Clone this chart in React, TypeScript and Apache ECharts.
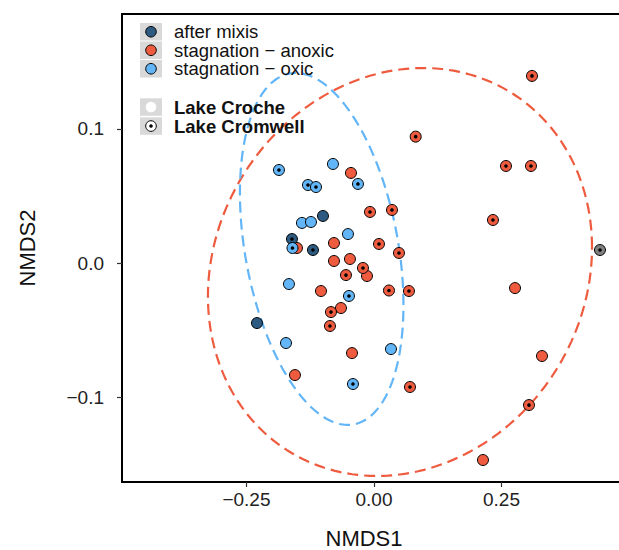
import React, { useEffect, useRef } from "react";
import * as echarts from "echarts";

const xTicks = [-0.25, 0, 0.25];
const yTicks = [-0.1, 0, 0.1];
const seasonLabels = ["after mixis", "stagnation − anoxic", "stagnation − oxic"];
const lakeLabels = ["Lake Croche", "Lake Cromwell"];
const xTitle = "NMDS1";
const yTitle = "NMDS2";

// [NMDS1, NMDS2]
const mixisCroche = [[-0.1, 0.0351], [-0.2294, -0.0448]];
const mixisCromwell = [[-0.1608, 0.0179], [-0.1196, 0.0097]];
const anoxicCroche = [
  [-0.0451, 0.0672], [-0.0784, 0.0149], [-0.151, 0.0112], [-0.0784, 0.0015],
  [-0.0471, 0.003], [-0.0137, -0.0097], [-0.1039, -0.0209], [0.2765, -0.0187],
  [-0.0647, -0.0336], [-0.0431, -0.0672], [0.3294, -0.0694], [-0.1549, -0.0836],
  [0.2137, -0.147],
];
const anoxicCromwell = [
  [0.3098, 0.1396], [0.0818, 0.0943], [0.2588, 0.0724], [0.3078, 0.0724],
  [-0.0078, 0.0381], [0.0353, 0.0396], [0.2333, 0.0321], [0.0098, 0.0142],
  [0.049, 0.0075], [-0.0216, -0.0037], [-0.0549, -0.009], [0.0294, -0.0205],
  [0.0686, -0.0209], [-0.0843, -0.0366], [-0.0863, -0.047], [0.0706, -0.0925],
  [0.3039, -0.106],
];
const oxicCroche = [
  [-0.0804, 0.0739], [-0.1412, 0.0299], [-0.1235, 0.0306], [-0.051, 0.0216],
  [-0.1667, -0.0157], [-0.1725, -0.0597], [0.0333, -0.0642],
];
const oxicCromwell = [
  [-0.1863, 0.0694], [-0.1294, 0.0582], [-0.1137, 0.0567], [-0.0314, 0.059],
  [-0.1598, 0.0112], [-0.049, -0.0246], [-0.0412, -0.0903],
];
const unassignedCromwell = [[0.4431, 0.0097]];

// ellipse parameters: centre, spreads and correlation
const anoxicEllipse = { cx: 0.051, cy: -0.0067, sx: 0.3765, sy: 0.1522, r: 0.12 };
const oxicEllipse = { cx: -0.1025, cy: 0.0105, sx: 0.1603, sy: 0.1313, r: -0.318 };

const RED = "#EE5B3E";
const BLUE = "#62B5F7";
const NAVY = "#2D5A80";
const GRAY = "#7F7F7F";
const FONT = "'Liberation Sans', Arial, sans-serif";

function ellipsePts(e: { cx: number; cy: number; sx: number; sy: number; r: number }) {
  const pts: number[][] = [];
  const n = 200;
  const q = Math.sqrt(1 - e.r * e.r);
  for (let i = 0; i <= n; i++) {
    const t = (i / n) * Math.PI * 2;
    pts.push([e.cx + e.sx * Math.cos(t), e.cy + e.sy * (e.r * Math.cos(t) + q * Math.sin(t))]);
  }
  return pts;
}

function circles(data: number[][], color: string) {
  return {
    type: "scatter",
    data,
    symbol: "circle",
    symbolSize: 11,
    itemStyle: { color, borderColor: "#000", borderWidth: 1, opacity: 1 },
    z: 3,
    silent: true,
  };
}
function dots(data: number[][]) {
  return {
    type: "scatter",
    data,
    symbol: "circle",
    symbolSize: 3.6,
    itemStyle: { color: "#000", opacity: 1 },
    z: 3,
    silent: true,
  };
}
function ellipseSeries(e: any, color: string) {
  return {
    type: "line",
    data: ellipsePts(e),
    showSymbol: false,
    smooth: false,
    lineStyle: { color, width: 2.2, type: [11, 6] },
    z: 2,
    silent: true,
  };
}

const fmtX = (v: number) => (v < 0 ? "−" : "") + Math.abs(v).toFixed(2);
const fmtY = (v: number) => (v < 0 ? "−" : "") + Math.abs(v).toFixed(1);

export default function App() {
  const ref = useRef<HTMLDivElement>(null);
  useEffect(() => {
    if (!ref.current) return;
    const chart = echarts.init(ref.current, undefined, { renderer: "svg" });
    const keyX = 140;
    const keyW = 22;
    const keyH = 17.5;
    const seasonRows = [23, 41.5, 60];
    const lakeRows = [98.3, 117.3];
    const seasonColors = [NAVY, RED, BLUE];
    const graphics: any[] = [];
    seasonLabels.forEach((lab, i) => {
      const y = seasonRows[i];
      graphics.push({ type: "rect", shape: { x: keyX, y, width: keyW, height: keyH }, style: { fill: "#D9D9D9" }, z: 10 });
      graphics.push({ type: "circle", shape: { cx: keyX + keyW / 2, cy: y + keyH / 2, r: 5.3 }, style: { fill: seasonColors[i], stroke: "#000", lineWidth: 1 }, z: 11 });
      graphics.push({ type: "text", x: 174, y: y + keyH / 2, style: { text: lab, fill: "#111", font: `18.5px ${FONT}`, textVerticalAlign: "middle", textAlign: "left" }, z: 11 });
    });
    lakeLabels.forEach((lab, i) => {
      const y = lakeRows[i];
      graphics.push({ type: "rect", shape: { x: keyX, y, width: keyW, height: keyH }, style: { fill: "#D9D9D9" }, z: 10 });
      if (i === 0) {
        graphics.push({ type: "circle", shape: { cx: keyX + keyW / 2, cy: y + keyH / 2, r: 5.3 }, style: { fill: "#fff" }, z: 11 });
      } else {
        graphics.push({ type: "circle", shape: { cx: keyX + keyW / 2, cy: y + keyH / 2, r: 5.3 }, style: { fill: "#fff", stroke: "#000", lineWidth: 1 }, z: 11 });
        graphics.push({ type: "circle", shape: { cx: keyX + keyW / 2, cy: y + keyH / 2, r: 1.8 }, style: { fill: "#000" }, z: 12 });
      }
      graphics.push({ type: "text", x: 174, y: y + keyH / 2, style: { text: lab, fill: "#111", font: `bold 18.5px ${FONT}`, textVerticalAlign: "middle", textAlign: "left" }, z: 11 });
    });
    graphics.push({ type: "text", x: 364, y: 538, style: { text: xTitle, fill: "#111", font: `22px ${FONT}`, textAlign: "center", textVerticalAlign: "middle" } });
    graphics.push({ type: "text", x: 27, y: 248, rotation: Math.PI / 2, style: { text: yTitle, fill: "#111", font: `22px ${FONT}`, textAlign: "center", textVerticalAlign: "middle" } });

    chart.setOption({
      animation: false,
      backgroundColor: "#fff",
      grid: { left: 122, top: 14, width: 507, height: 468, show: true, borderColor: "#000", borderWidth: 2, backgroundColor: "transparent" },
      xAxis: {
        type: "value", min: -0.494, max: 0.5,
        axisLine: { show: false, onZero: false },
        splitLine: { show: false },
        axisTick: { show: true, length: 5, customValues: xTicks, lineStyle: { color: "#333", width: 1.2 } },
        axisLabel: { show: true, customValues: xTicks, formatter: fmtX, color: "#222", fontSize: 19, fontFamily: FONT, margin: 8 },
      },
      yAxis: {
        type: "value", min: -0.1634, max: 0.1858,
        axisLine: { show: false, onZero: false },
        splitLine: { show: false },
        axisTick: { show: true, length: 5, customValues: yTicks, lineStyle: { color: "#333", width: 1.2 } },
        axisLabel: { show: true, customValues: yTicks, formatter: fmtY, color: "#222", fontSize: 19, fontFamily: FONT, margin: 18 },
      },
      graphic: graphics,
      series: [
        ellipseSeries(anoxicEllipse, RED),
        ellipseSeries(oxicEllipse, BLUE),
        circles(anoxicCroche, RED),
        circles(anoxicCromwell, RED),
        dots(anoxicCromwell),
        circles(mixisCroche, NAVY),
        circles(mixisCromwell, NAVY),
        dots(mixisCromwell),
        circles(oxicCroche, BLUE),
        circles(oxicCromwell, BLUE),
        dots(oxicCromwell),
        circles(unassignedCromwell, GRAY),
        dots(unassignedCromwell),
      ],
    });
    return () => chart.dispose();
  }, []);
  return <div ref={ref} style={{ position: "fixed", left: 0, top: 0, width: 640, height: 550, background: "#fff" }} />;
}
